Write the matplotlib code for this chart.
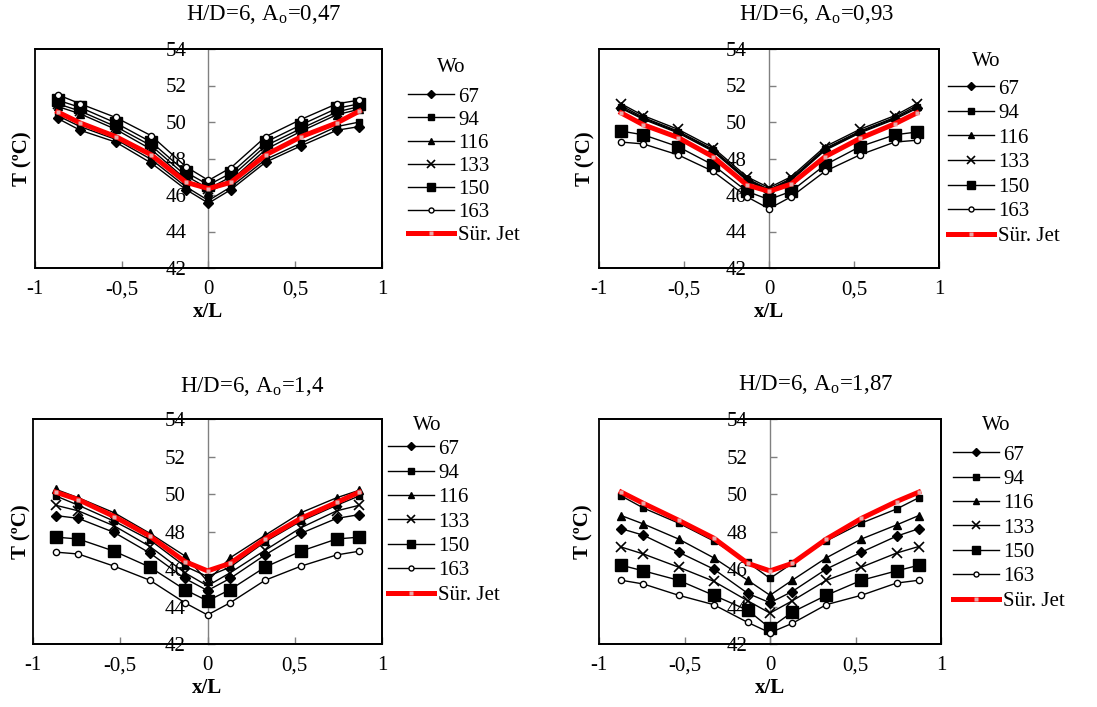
import matplotlib
matplotlib.use("Agg")
import matplotlib.pyplot as plt
from matplotlib.patches import Rectangle

plt.rcParams['font.family'] = ['Liberation Serif', 'DejaVu Serif']
plt.rcParams['mathtext.fontset'] = 'stix'

# x/L positions of the measurement points
x_pos = [-0.87, -0.74, -0.535, -0.33, -0.13, 0, 0.13, 0.33, 0.535, 0.74, 0.87]

wo_labels = ['67', '94', '116', '133', '150', '163']
ao_labels = ['0,47', '0,93', '1,4', '1,87']

# T (C) per Wo, panel A0=0,47
t_047 = {
    '67':  [50.2, 49.55, 48.9, 47.75, 46.3, 45.55, 46.3, 47.8, 48.7, 49.55, 49.75],
    '94':  [50.35, 49.75, 49.05, 47.95, 46.45, 45.7, 46.45, 47.95, 48.85, 49.75, 50.0],
    '116': [50.85, 50.45, 49.6, 48.5, 46.85, 46.15, 46.8, 48.5, 49.5, 50.4, 50.7],
    '133': [51.0, 50.6, 49.75, 48.7, 47.05, 46.35, 47.0, 48.7, 49.65, 50.55, 50.85],
    '150': [51.2, 50.8, 49.95, 48.9, 47.25, 46.55, 47.2, 48.9, 49.85, 50.75, 51.0],
    '163': [51.5, 51.0, 50.25, 49.25, 47.55, 46.8, 47.5, 49.2, 50.15, 51.0, 51.2],
}
jet_047 = [50.55, 49.95, 49.2, 48.2, 46.7, 46.35, 46.7, 48.2, 49.2, 49.95, 50.6]

# panel A0=0,93
t_093 = {
    '67':  [50.75, 50.15, 49.4, 48.4, 46.8, 46.2, 46.8, 48.45, 49.4, 50.15, 50.75],
    '94':  [50.8, 50.2, 49.45, 48.45, 46.85, 46.25, 46.85, 48.5, 49.45, 50.2, 50.8],
    '116': [50.9, 50.25, 49.5, 48.5, 46.9, 46.3, 46.9, 48.55, 49.5, 50.25, 50.9],
    '133': [51.0, 50.35, 49.6, 48.6, 47.0, 46.4, 47.0, 48.65, 49.6, 50.35, 51.0],
    '150': [49.5, 49.3, 48.65, 47.65, 46.2, 45.75, 46.2, 47.65, 48.65, 49.3, 49.45],
    '163': [48.9, 48.8, 48.2, 47.3, 45.9, 45.25, 45.9, 47.3, 48.2, 48.9, 49.0],
}
jet_093 = [50.5, 49.85, 49.15, 48.1, 46.55, 46.2, 46.6, 48.1, 49.1, 49.9, 50.5]

# panel A0=1,4
t_14 = {
    '67':  [48.85, 48.7, 47.95, 46.85, 45.5, 44.85, 45.5, 46.75, 47.9, 48.7, 48.9],
    '94':  [49.9, 49.4, 48.55, 47.55, 46.15, 45.6, 46.1, 47.45, 48.55, 49.4, 49.9],
    '116': [50.25, 49.8, 49.0, 47.9, 46.7, 45.35, 46.6, 47.8, 49.0, 49.8, 50.2],
    '133': [49.4, 49.1, 48.3, 47.2, 45.8, 45.1, 45.8, 47.0, 48.2, 49.1, 49.4],
    '150': [47.7, 47.6, 46.95, 46.1, 44.9, 44.3, 44.9, 46.1, 46.95, 47.6, 47.7],
    '163': [46.9, 46.8, 46.15, 45.4, 44.2, 43.55, 44.2, 45.4, 46.15, 46.75, 46.95],
}
jet_14 = [50.1, 49.7, 48.8, 47.75, 46.4, 45.9, 46.3, 47.6, 48.7, 49.55, 50.1]

# panel A0=1,87
t_187 = {
    '67':  [48.15, 47.8, 46.9, 46.0, 44.7, 44.2, 44.8, 46.0, 46.9, 47.75, 48.15],
    '94':  [49.9, 49.25, 48.45, 47.5, 46.35, 45.5, 46.3, 47.5, 48.45, 49.2, 49.8],
    '116': [48.85, 48.4, 47.6, 46.6, 45.4, 44.6, 45.4, 46.6, 47.6, 48.35, 48.85],
    '133': [47.17, 46.8, 46.1, 45.35, 44.3, 43.65, 44.3, 45.4, 46.1, 46.85, 47.2],
    '150': [46.2, 45.9, 45.4, 44.6, 43.8, 42.85, 43.7, 44.6, 45.4, 45.9, 46.2],
    '163': [45.4, 45.2, 44.6, 44.1, 43.15, 42.6, 43.1, 44.1, 44.6, 45.25, 45.4],
}
jet_187 = [50.1, 49.5, 48.6, 47.65, 46.3, 45.9, 46.3, 47.6, 48.7, 49.6, 50.1]

panel_data = [t_047, t_093, t_14, t_187]
jet_data = [jet_047, jet_093, jet_14, jet_187]

# marker style per Wo series
styles = {
    '67':  dict(marker='D', ms=5, mfc='black'),
    '94':  dict(marker='s', ms=5, mfc='black'),
    '116': dict(marker='^', ms=6, mfc='black'),
    '133': dict(marker='x', ms=7, mfc='black', mew=1.2),
    '150': dict(marker='s', ms=8, mfc='black'),
    '163': dict(marker='o', ms=4.5, mfc='white'),
}

W, H = 1097, 707
fig = plt.figure(figsize=(W / 100, H / 100), dpi=100)

# axes boxes in pixels: left, top, right, bottom
boxes = [(35, 49, 382, 268), (599, 49, 939, 268),
         (33, 419, 382, 644), (599, 419, 941, 644)]
title_pos = [(264, 15), (817, 15), (252, 387), (816, 385)]
# legend: top-left of entries (px), row spacing, "Wo" centre
legend_pos = [(408, 87), (948, 79), (388, 439), (953, 445)]
legend_sp = [0.17, 0.24, 0.23, 0.23]
wo_pos = [(451, 68), (986, 62), (427, 425), (996, 425)]
ylab_x = [-0.036, -0.041, -0.034, -0.044]

for i, (l, t, r, b) in enumerate(boxes):
    ax = fig.add_axes([l / W, 1 - b / H, (r - l) / W, (b - t) / H])
    data = panel_data[i]
    for wo in wo_labels:
        st = styles[wo]
        ax.plot(x_pos, data[wo], color='black', lw=1.0, mec='black',
                label=wo, zorder=3, **st)
    ax.plot(x_pos, jet_data[i], color='#ff0000', lw=3.6, marker='s', ms=3.5,
            mfc='#e8a8a8', mec='none', label='Sür. Jet', zorder=4)

    ax.set_xlim(-1, 1)
    ax.set_ylim(42, 54)
    ax.set_xticks([-1, -0.5, 0, 0.5, 1])
    ax.set_xticklabels(['-1', '-0,5', '0', '0,5', '1'])
    ax.set_yticks(range(42, 55, 2))

    ax.spines['left'].set_position(('data', 0))
    ax.spines['left'].set_color('#808080')
    ax.spines['left'].set_linewidth(1.0)
    for s in ['top', 'right', 'bottom']:
        ax.spines[s].set_color('black')
        ax.spines[s].set_linewidth(1.3)
    ax.add_patch(Rectangle((0, 0), 1, 1, transform=ax.transAxes, fill=False,
                           ec='black', lw=1.3, clip_on=False, zorder=5))

    ax.tick_params(axis='y', direction='in', length=5, width=1, color='#808080',
                   labelsize=15, pad=16)
    ax.tick_params(axis='x', direction='in', length=5, width=1, color='#808080',
                   labelsize=15, pad=9)

    ax.text(ylab_x[i], 0.5, 'T (ºC)', transform=ax.transAxes, rotation=90,
            ha='center', va='center', fontsize=15, fontweight='bold')
    ax.set_xlabel('x/L', fontsize=15, fontweight='bold', labelpad=2)

    tx, ty = title_pos[i]
    fig.text(tx / W, 1 - ty / H, 'H/D=6, A$_{\\mathregular{o}}$=' + ao_labels[i],
             ha='center', va='center', fontsize=16.5)

    wx, wy = wo_pos[i]
    fig.text(wx / W, 1 - wy / H, 'Wo', ha='center', va='center', fontsize=15)

    lx, ly = legend_pos[i]
    ax.legend(loc='upper left', bbox_to_anchor=(lx / W, 1 - ly / H),
              bbox_transform=fig.transFigure, frameon=False, fontsize=15,
              borderpad=0, borderaxespad=0,
              handlelength=2.2, handletextpad=0.2, labelspacing=legend_sp[i],
              markerscale=0.8)

fig.savefig('out.png', dpi=100)
